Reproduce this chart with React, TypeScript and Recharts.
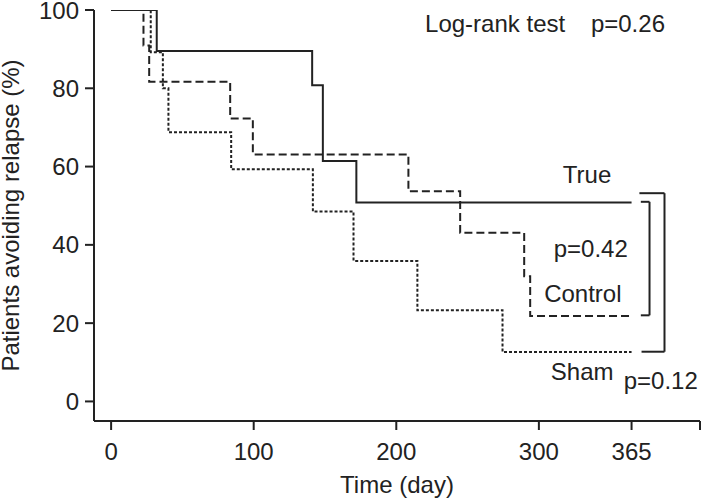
import React from 'react';
import { LineChart, Line, XAxis, YAxis, ReferenceLine, ReferenceDot } from 'recharts';

// ---- data ----
const xTicks = [0, 100, 200, 300, 365, 413];
const xTickLabels = ['0', '100', '200', '300', '365', ''];
const yTicks = [0, 20, 40, 60, 80, 100];

const trueDays = [0, 32, 141, 148.5, 172, 365];
const trueSurvival = [100, 89.5, 80.8, 61.4, 50.8, 50.8];

const controlDays = [0, 22.7, 26.7, 83.5, 99.4, 208.5, 244.8, 289.7, 293.9, 365];
const controlSurvival = [100, 90.9, 81.7, 72.3, 63.1, 53.7, 43.1, 32, 21.8, 21.8];

const shamDays = [0, 27.8, 36.3, 40.2, 84.2, 141.5, 170, 214.8, 274.5, 365];
const shamSurvival = [100, 89.2, 80, 68.8, 59.3, 48.5, 35.9, 23.3, 12.6, 12.6];

const noteTexts = ['Log-rank test', 'p=0.26', 'True', 'p=0.42', 'Control', 'Sham', 'p=0.12'];
const noteDays = [220.2, 336.5, 316.8, 310.4, 303.7, 308.4, 359.5];
const noteLevels = [94.4, 94.4, 55.9, 37, 25.3, 5.5, 3.2];

// brackets: [leftTopDay, leftBottomDay, rightDay, topLevel, bottomLevel]
const bracketTrueControl = [371.5, 371.5, 377.6, 51, 22];
const bracketTrueSham = [370.5, 372, 388.1, 53.2, 12.7];

const rows = (d: number[], v: number[]) => d.map((t, i) => ({ t, v: v[i] }));

const INK = '#222222';
const FONT = '"Liberation Sans", Arial, Helvetica, sans-serif';

const NoteText = (props: any) => {
  const vb = props.viewBox || {};
  return (
    <text x={vb.x} y={vb.y} fill={INK} fontFamily={FONT} fontSize={24} textAnchor="start">
      {props.text}
    </text>
  );
};

const YTitle = (props: any) => {
  const vb = props.viewBox || { x: 0, y: 0, height: 0 };
  const x = vb.x + 19;
  const y = vb.y + vb.height / 2;
  return (
    <text x={x} y={y} transform={`rotate(-90, ${x}, ${y})`} textAnchor="middle" fill={INK} fontFamily={FONT} fontSize={24}>
      Patients avoiding relapse (%)
    </text>
  );
};

const XTitle = (props: any) => {
  const vb = props.viewBox || { x: 0, y: 0, width: 0 };
  return (
    <text x={vb.x + vb.width / 2} y={vb.y + 72} textAnchor="middle" fill={INK} fontFamily={FONT} fontSize={24}>
      Time (day)
    </text>
  );
};

const bracketSegments = (b: number[]) => [
  [{ x: b[0], y: b[3] }, { x: b[2], y: b[3] }],
  [{ x: b[2], y: b[3] }, { x: b[2], y: b[4] }],
  [{ x: b[1], y: b[4] }, { x: b[2], y: b[4] }],
];

export default function App() {
  const tickStyle = { fill: INK, fontFamily: FONT, fontSize: 24 };
  const segs = [...bracketSegments(bracketTrueControl), ...bracketSegments(bracketTrueSham)];
  return (
    <div style={{ position: 'absolute', left: 0, top: 0, width: 701, height: 501, background: '#fff' }}>
      <LineChart width={701} height={501} margin={{ top: 10, right: 1, bottom: 0, left: 0 }}>
        <XAxis
          type="number"
          dataKey="t"
          domain={[-12, 413]}
          ticks={xTicks}
          tickFormatter={(v: number) => xTickLabels[xTicks.indexOf(v)] ?? ''}
          interval={0}
          height={80}
          tickSize={9}
          tickMargin={13}
          tick={tickStyle}
          axisLine={{ stroke: INK, strokeWidth: 2 }}
          tickLine={{ stroke: INK, strokeWidth: 2 }}
          allowDataOverflow
          label={<XTitle />}
        />
        <YAxis
          type="number"
          domain={[-5, 100]}
          ticks={yTicks}
          interval={0}
          width={94}
          tickSize={9}
          tickMargin={6}
          tick={tickStyle}
          axisLine={{ stroke: INK, strokeWidth: 2 }}
          tickLine={{ stroke: INK, strokeWidth: 2 }}
          allowDataOverflow
          label={<YTitle />}
        />
        <Line data={rows(shamDays, shamSurvival)} dataKey="v" type="stepAfter" stroke={INK} strokeWidth={2} strokeDasharray="3 2" dot={false} isAnimationActive={false} />
        <Line data={rows(controlDays, controlSurvival)} dataKey="v" type="stepAfter" stroke={INK} strokeWidth={2} strokeDasharray="8 4" dot={false} isAnimationActive={false} />
        <Line data={rows(trueDays, trueSurvival)} dataKey="v" type="stepAfter" stroke={INK} strokeWidth={2} dot={false} isAnimationActive={false} />
        {segs.map((s, i) => (
          <ReferenceLine key={`b${i}`} segment={s as any} stroke={INK} strokeWidth={2} ifOverflow="visible" />
        ))}
        {noteTexts.map((t, i) => (
          <ReferenceDot key={`n${i}`} x={noteDays[i]} y={noteLevels[i]} r={0} fill="none" stroke="none" ifOverflow="visible" label={<NoteText text={t} />} />
        ))}
      </LineChart>
    </div>
  );
}
